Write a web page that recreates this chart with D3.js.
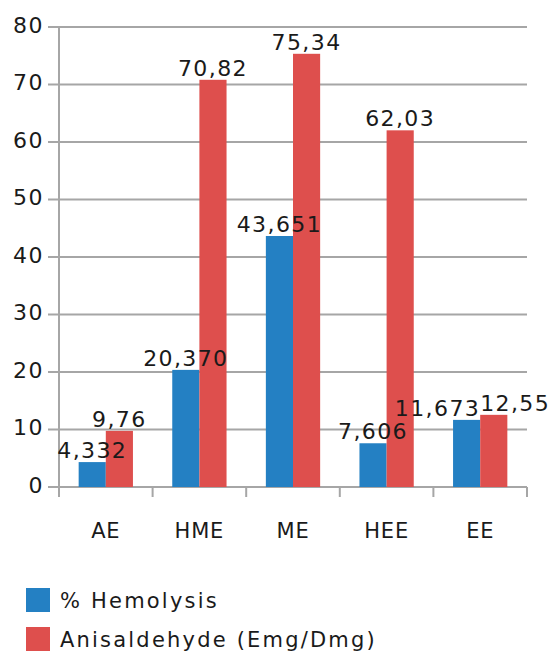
<!DOCTYPE html>
<html>
<head>
<meta charset="utf-8">
<script src="https://cdn.jsdelivr.net/npm/d3@7"></script>
<style>
  body { margin: 0; background: #fff; }
  text { font-family: "DejaVu Sans", Verdana, sans-serif; }
</style>
</head>
<body>
<svg id="chart" width="555" height="651"></svg>
<script>
// data
const categories = ["AE", "HME", "ME", "HEE", "EE"];
const hemolysis = [4.332, 20.370, 43.651, 7.606, 11.673];
const anisaldehyde = [9.76, 70.82, 75.34, 62.03, 12.55];
const seriesNames = ["% Hemolysis", "Anisaldehyde (Emg/Dmg)"];
const yTicks = [0, 10, 20, 30, 40, 50, 60, 70, 80];

const svg = d3.select("#chart");
const margin = { top: 27, right: 28, bottom: 164, left: 59 };
const width = 555, height = 651;
const colors = ["#2480c3", "#de4f4d"];

// comma decimal like the original
const locale = d3.formatLocale({ decimal: ",", thousands: ".", grouping: [3], currency: ["", ""] });
const fmt = [locale.format(".3f"), locale.format(".2f")];

const series = [hemolysis, anisaldehyde];

const x0 = d3.scaleBand()
  .domain(categories)
  .range([margin.left, width - margin.right])
  .paddingInner(0.42)
  .paddingOuter(0.21);

const x1 = d3.scaleBand()
  .domain([0, 1])
  .range([0, x0.bandwidth()]);

const y = d3.scaleLinear()
  .domain([0, 80])
  .range([height - margin.bottom, margin.top]);

const gridColor = "#a6a6a6";
const textColor = "#1a1a1a";

// gridlines + y labels
const yAxis = svg.append("g").attr("class", "y-axis");
yTicks.forEach(t => {
  yAxis.append("line")
    .attr("x1", margin.left - 11).attr("x2", width - margin.right)
    .attr("y1", y(t)).attr("y2", y(t))
    .attr("stroke", gridColor).attr("stroke-width", 2);
  yAxis.append("text")
    .attr("x", 44).attr("y", y(t)).attr("dy", "0.26em")
    .attr("text-anchor", "end")
    .attr("font-size", 22)
    .attr("letter-spacing", 1.5)
    .attr("fill", textColor)
    .text(t);
});

// y axis line
svg.append("line")
  .attr("x1", margin.left).attr("x2", margin.left)
  .attr("y1", y(80)).attr("y2", y(0) + 10)
  .attr("stroke", gridColor).attr("stroke-width", 2);

// x axis ticks between categories
const step = x0.step();
d3.range(categories.length + 1).forEach(i => {
  const xx = margin.left + i * step;
  svg.append("line")
    .attr("x1", xx).attr("x2", xx)
    .attr("y1", y(0)).attr("y2", y(0) + 10)
    .attr("stroke", gridColor).attr("stroke-width", 2);
});

// x labels
svg.append("g").selectAll("text")
  .data(categories)
  .join("text")
  .attr("x", d => x0(d) + x0.bandwidth() / 2)
  .attr("y", y(0) + 51)
  .attr("text-anchor", "middle")
  .attr("font-size", 21)
  .attr("letter-spacing", 0.8)
  .attr("fill", textColor)
  .text(d => d);

// bars
const groups = svg.append("g").selectAll("g")
  .data(categories)
  .join("g")
  .attr("transform", d => `translate(${x0(d)},0)`);

groups.selectAll("rect")
  .data((d, i) => series.map((s, k) => ({ k, v: s[i] })))
  .join("rect")
  .attr("x", d => x1(d.k))
  .attr("width", x1.bandwidth())
  .attr("y", d => y(d.v))
  .attr("height", d => y(0) - y(d.v))
  .attr("fill", d => colors[d.k]);

// value labels, pushed apart when the two in a group would collide
const labelSize = 22;
categories.forEach((c, i) => {
  const vals = series.map(s => s[i]);
  const ys = vals.map(v => y(v) - 4);
  const collide = Math.abs(ys[0] - ys[1]) < labelSize * 0.9;
  const gx = x0(c);
  vals.forEach((v, k) => {
    let xx = gx + x1(k) + x1.bandwidth() / 2;
    let anchor = "middle";
    if (collide) {
      xx = gx + x0.bandwidth() / 2;
      anchor = k === 0 ? "end" : "start";
    }
    svg.append("text")
      .attr("x", xx).attr("y", ys[k])
      .attr("text-anchor", anchor)
      .attr("font-size", labelSize)
      .attr("letter-spacing", 1.4)
      .attr("fill", textColor)
      .text(fmt[k](v));
  });
});

// legend
const legend = svg.append("g").attr("transform", "translate(26,588)");
seriesNames.forEach((name, k) => {
  const g = legend.append("g").attr("transform", `translate(0,${k * 39})`);
  g.append("rect").attr("width", 24).attr("height", 24).attr("fill", colors[k]);
  g.append("text")
    .attr("x", 34).attr("y", 20)
    .attr("font-size", 21)
    .attr("letter-spacing", 2.2)
    .attr("fill", textColor)
    .text(name);
});
</script>
</body>
</html>
